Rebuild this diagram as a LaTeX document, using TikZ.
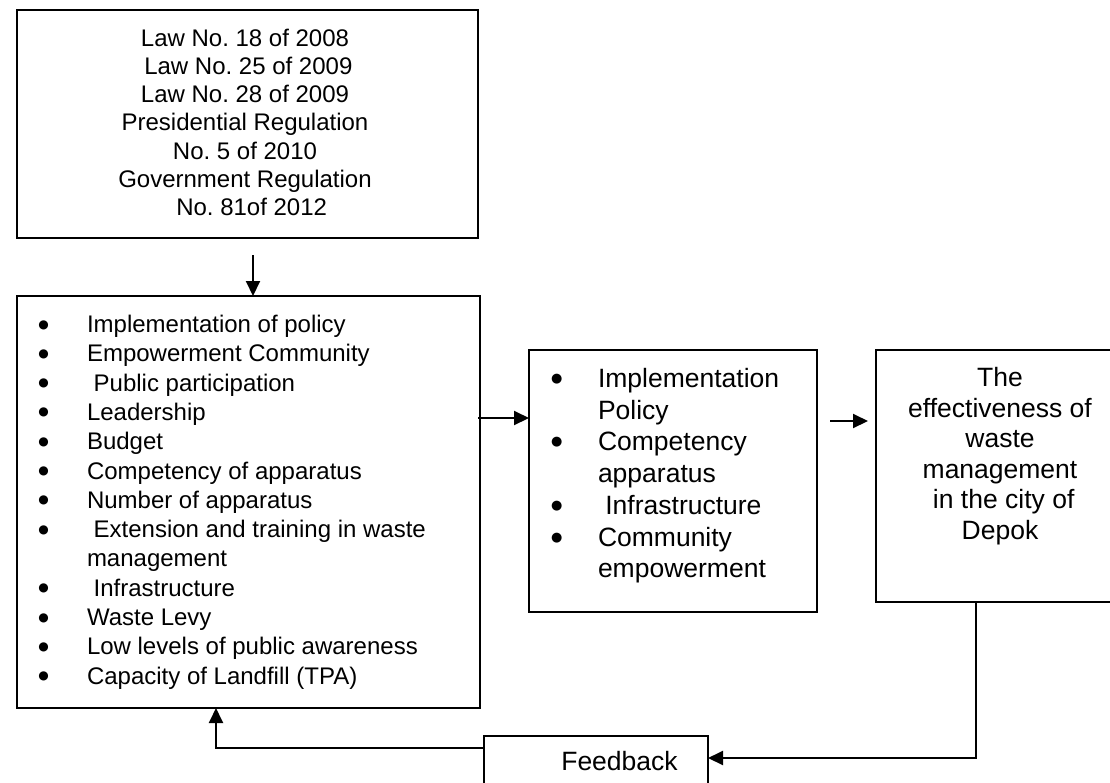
\documentclass[tikz,border=0pt]{standalone}
\usepackage{fontspec}
\setmainfont{Liberation Sans}
\newfontfamily\dejavu{DejaVu Sans}
\frenchspacing
\usetikzlibrary{arrows.meta}
\newcommand\bul{\raisebox{4.5pt}{\dejavu\fontsize{12}{12}\selectfont ●}}
\newcommand\bulm{\raisebox{5pt}{\dejavu\fontsize{13}{13}\selectfont ●}}
\begin{document}
\begin{tikzpicture}[x=1pt,y=-1pt,
  box/.style={draw,line width=2pt,inner sep=0pt,outer sep=0pt},
  txt/.style={inner sep=0pt,outer sep=0pt,anchor=base},
  txtw/.style={inner sep=0pt,outer sep=0pt,anchor=base west},
  arr/.style={line width=2pt,-{Triangle[length=15pt,width=14pt]}},
  fsmall/.style={font=\fontsize{24}{28.3}\selectfont},
  flist/.style={font=\fontsize{24}{29.3}\selectfont},
  fmid/.style={font=\fontsize{26.5}{31.7}\selectfont},
  fright/.style={font=\fontsize{26.5}{30.6}\selectfont},
]
\clip (0,0) rectangle (1110,782);
\fill[white] (0,0) rectangle (1110,782);
% boxes
\node[box,minimum width=461.5pt,minimum height=228pt] (law) at (247.25,124) {};
\node[box,minimum width=463.5pt,minimum height=412pt] (lbox) at (248.25,502) {};
\node[box,minimum width=288pt,minimum height=262pt] (mbox) at (673,481) {};
\node[box,minimum width=248pt,minimum height=252pt] (rbox) at (1000,476) {};
\node[box,minimum width=224pt,minimum height=64pt] (fb) at (596,768) {};
% texts
\node[txt,fsmall] (lawtxt) at (245,46) {\begin{tabular}[t]{@{}c@{}}
Law No. 18 of 2008\\
\ Law No. 25 of 2009\\
Law No. 28 of 2009\\
Presidential Regulation\\
No. 5 of 2010\\
Government Regulation\\
\ \ No. 81of 2012
\end{tabular}};
\node[txtw,flist] (ltxt) at (38.4,332.5) {\begin{tabular}[t]{@{}p{48.6pt}@{}l@{}}
\bul & Implementation of policy\\
\bul & Empowerment Community\\
\bul & \ Public participation\\
\bul & Leadership\\
\bul & Budget\\
\bul & Competency of apparatus\\
\bul & Number of apparatus\\
\bul & \ Extension and training in waste\\
     & management\\
\bul & \ Infrastructure\\
\bul & Waste Levy\\
\bul & Low levels of public awareness\\
\bul & Capacity of Landfill (TPA)
\end{tabular}};
\node[txtw,fmid] (mtxt) at (551,387.5) {\begin{tabular}[t]{@{}p{47pt}@{}l@{}}
\bulm & Implementation\\
      & Policy\\
\bulm & Competency\\
      & apparatus\\
\bulm & \ Infrastructure\\
\bulm & Community\\
      & empowerment
\end{tabular}};
\node[txt,fright] (rtxt) at (1000,386.5) {\begin{tabular}[t]{@{}c@{}}
The\\
effectiveness of\\
waste\\
management\\
\ in the city of\\
Depok
\end{tabular}};
\node[txt,fmid] (fbtxt) at (619.5,770) {Feedback};
% connectors
\coordinate (t1) at (253,255);
\draw[arr] (t1) -- (t1 |- lbox.north);
\coordinate (a1) at (478,418);
\draw[arr] (a1) -- (a1 -| mbox.west);
\coordinate (a2s) at (830,421);
\coordinate (a2e) at (868,421);
\draw[arr] (a2s) -- (a2e);
\coordinate (c1) at (976,758);
\draw[arr] (c1 |- rbox.south) -- (c1) -- (c1 -| fb.east);
\coordinate (c2) at (216,748);
\draw[arr] (c2 -| fb.west) -- (c2) -- (c2 |- lbox.south);
\end{tikzpicture}
\end{document}
